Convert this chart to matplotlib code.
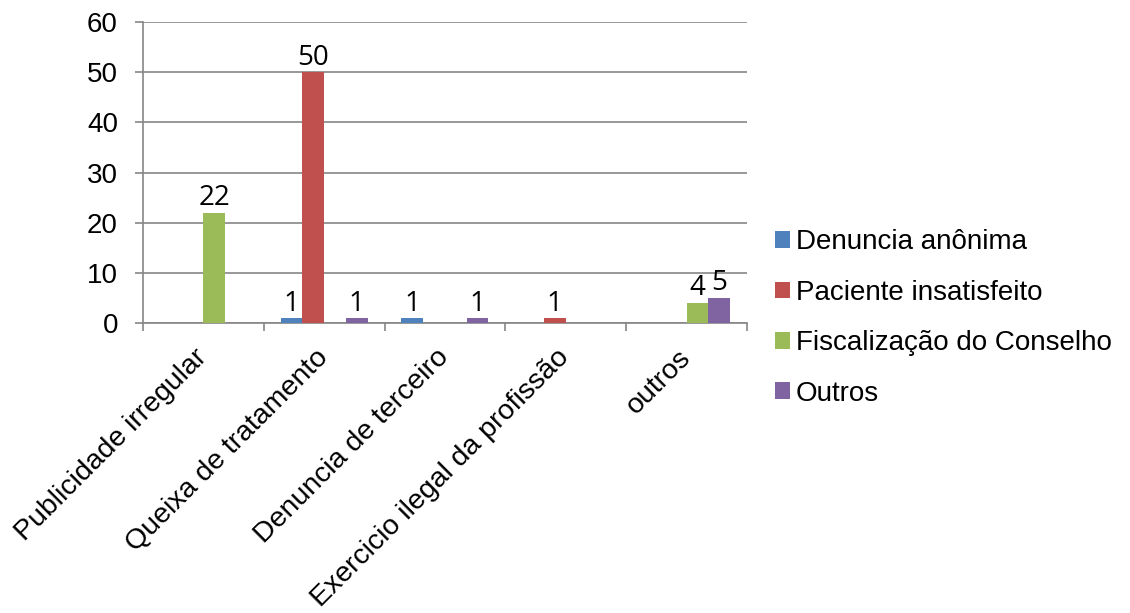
import numpy as np
import matplotlib
matplotlib.use("Agg")
import matplotlib.pyplot as plt

# categories and series
categories = ["Publicidade irregular", "Queixa de tratamento", "Denuncia de terceiro",
              "Exercicio ilegal da profissão", "outros"]
denuncia_anonima = [0, 1, 1, 0, 0]
paciente_insatisfeito = [0, 50, 0, 1, 0]
fiscalizacao = [22, 0, 0, 0, 4]
outros = [0, 1, 1, 0, 5]

series = [
    ("Denuncia anônima", denuncia_anonima, "#4F81BD"),
    ("Paciente insatisfeito", paciente_insatisfeito, "#C0504D"),
    ("Fiscalização do Conselho", fiscalizacao, "#9BBB59"),
    ("Outros", outros, "#8064A2"),
]

plt.rcParams["font.family"] = ["Liberation Sans", "DejaVu Sans"]

fig = plt.figure(figsize=(11.3, 6.13), dpi=100)
ax = fig.add_axes([0.1265, 0.473, 0.5345, 0.491])

x = np.arange(len(categories))
width = 0.18
for i, (name, vals, color) in enumerate(series):
    pos = x + (i - 1.5) * width
    bars = ax.bar(pos, vals, width, color=color, label=name, zorder=3)
    for b, v in zip(bars, vals):
        if v:
            ax.text(b.get_x() + b.get_width() / 2, v + 0.1, str(v), ha="center", va="bottom",
                    fontsize=20, family=["Open Sans", "DejaVu Sans"])

ax.set_xlim(-0.5, len(categories) - 0.5)
ax.set_ylim(0, 60)
ax.set_yticks(range(0, 61, 10))
ax.yaxis.grid(True, color="#868686", linewidth=1.2, zorder=0)
ax.set_xticks(np.arange(-0.5, len(categories), 1.0), minor=False)
ax.set_xticklabels([])
ax.set_xticks(x, minor=True)
ax.set_xticklabels(categories, minor=True, rotation=45, ha="right", va="center",
                   rotation_mode="anchor", fontsize=20.5)
ax.tick_params(axis="x", which="minor", length=0, pad=22)
ax.tick_params(axis="x", which="major", length=6, color="#868686", width=1.2)
ax.tick_params(axis="y", length=6, color="#868686", width=1.2, labelsize=20, pad=12)

for s in ["top", "right"]:
    ax.spines[s].set_visible(False)
for s in ["left", "bottom"]:
    ax.spines[s].set_color("#868686")
    ax.spines[s].set_linewidth(1.2)

ax.legend(loc="center left", bbox_to_anchor=(1.046, 0.017), frameon=False, fontsize=20,
          handlelength=0.55, handleheight=0.55, handletextpad=0.2, labelspacing=0.88,
          borderaxespad=0, borderpad=0)

fig.savefig("out.png", dpi=100)
